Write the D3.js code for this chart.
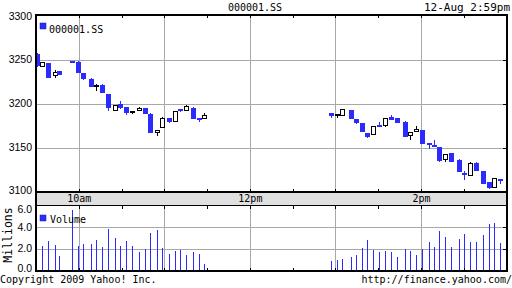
<!DOCTYPE html>
<html><head><meta charset="utf-8">
<script src="https://cdn.jsdelivr.net/npm/d3@7"></script>
<style>html,body{margin:0;padding:0;background:#fff;overflow:hidden}</style>
</head><body><svg id="c" width="512" height="288"></svg>
<script>
const symbol = "000001.SS";
const stamp = "12-Aug 2:59pm";
const copyright = "Copyright 2009 Yahoo! Inc.";
const url = "http://finance.yahoo.com/";
// minutes after 9:30
const minutes = [1.0,4.4,8.6,13.0,16.4,25.5,29.7,33.3,38.8,42.4,46.6,50.8,55.6,59.2,63.4,67.6,71.9,76.7,80.2,84.6,88.6,93.5,97.8,101.3,105.5,110.4,114.6,118.1,
  207.2,211.4,214.9,220.6,224.1,228.3,232.5,236.3,240.9,245.1,249.3,253.5,258.5,262.0,266.2,270.4,275.3,279.5,283.0,287.2,291.4,296.4,299.9,304.1,308.3,313.3,317.5,321.0,325.1];
const opens  = [3256,3242,3246,3231,3237,3247.5,3247,3235,3228,3219.5,3221,3211,3191,3200,3196,3190,3191,3195,3188,3166,3172,3184,3179,3193,3192,3195,3182.5,3182,
  3189,3186,3186,3193,3182,3178,3167,3164,3175,3174,3185,3183,3179,3163,3168,3170,3155,3153,3151,3136,3144,3136,3121,3118,3132.5,3123,3111,3104.5,3114];
const highs  = [3257,3247,3246,3238,3237,3248.5,3248,3235,3229,3222,3222,3211,3198,3203,3196,3192,3196,3195,3189,3170,3185,3184,3192,3194,3198,3196,3183.5,3189,
  3189,3188,3194,3193,3182,3178,3167,3174,3179,3183,3187,3183,3180,3168,3174,3170,3155,3159,3151,3143,3144,3137,3123,3133,3134,3123,3111,3115,3114];
const lows   = [3241,3242,3229,3229,3232,3246,3235,3227,3219,3214,3212,3191,3191,3194,3187,3188,3191,3188,3167,3163,3172,3178,3179,3190,3192,3182,3179,3182,
  3184,3183,3186,3182,3176.5,3168,3160.5,3164,3174,3173,3181,3178,3162,3159,3168,3154,3148,3151,3134,3134,3134,3122,3113,3118,3123,3109,3103,3104,3109];
const closes = [3243,3247,3229,3236,3232,3246.5,3235,3228,3219,3220.5,3212,3195,3198,3195,3189,3191,3195,3188,3167,3170,3183,3179,3192,3192,3197,3182,3181.5,3187,
  3186,3188,3193.5,3182,3178,3168,3162,3174,3174,3183,3181,3178,3162,3168,3171,3154,3153.5,3151,3135,3143,3134,3122,3119.5,3132.5,3123,3109,3104,3115,3112.5];
// millions
const volumes = [null,2.29,2.75,2.38,1.36,5.6,2.29,2.47,2.47,2.84,2.19,3.85,3.02,2.29,2.75,2.29,1.73,2.01,3.48,3.76,2.1,1.55,1.82,1.92,1.46,1.73,1.55,0.63,
  0.90,1.0,1.09,1.27,1.46,2.1,2.84,1.92,1.73,1.82,1.73,1.27,2.01,1.82,1.46,2.01,2.65,2.19,3.67,3.12,2.19,2.93,3.39,2.65,2.65,3.3,4.31,4.4,2.56];
const priceTicks = [3100,3150,3200,3250,3300];
const volTicks = [0,2,4,6];
const hourTicks = [30,90,150,210,270];
const timeLabelTicks = [30,150,270];
const timeLabels = ["10am","12pm","2pm"];

const svg = d3.select("#c");
const L = 36, R = 506.5, T = 15, MB = 192, VT = 205.5, VB = 271;
const blue = "#2b2bff", gridC = "#a8a8a8";
const mono = "'DejaVu Sans Mono', monospace", sans = "'Liberation Sans', Arial, sans-serif";

const x = d3.scaleLinear().domain([0, 330]).range([L, R]);
const y = d3.scaleLinear().domain([3100, 3300]).range([191.5, 15.5]);
const yv = d3.scaleLinear().domain([0, 6]).range([270.8, 205.7]);

const data = minutes.map((t, i) => ({t, o: opens[i], h: highs[i], l: lows[i], c: closes[i], v: volumes[i]}));

// grey time band
svg.append("rect").attr("x", L).attr("y", MB).attr("width", R - L).attr("height", VT - MB).attr("fill", "#e0e0e0");

// gridlines
const g = svg.append("g").attr("stroke", gridC).attr("stroke-width", 1).attr("shape-rendering", "crispEdges");
g.selectAll(".hv").data(hourTicks).join("line")
  .attr("x1", d => Math.round(x(d)) + 0.5).attr("x2", d => Math.round(x(d)) + 0.5).attr("y1", T).attr("y2", MB);
g.selectAll(".hv2").data(hourTicks).join("line").attr("class", "hv2")
  .attr("x1", d => Math.round(x(d)) + 0.5).attr("x2", d => Math.round(x(d)) + 0.5).attr("y1", VT).attr("y2", VB);
g.selectAll(".ph").data(priceTicks.slice(1, -1)).join("line").attr("class", "ph")
  .attr("x1", L).attr("x2", R).attr("y1", d => Math.round(y(d)) + 0.5).attr("y2", d => Math.round(y(d)) + 0.5);
g.selectAll(".vh").data(volTicks.slice(1, -1)).join("line").attr("class", "vh")
  .attr("x1", L).attr("x2", R).attr("y1", d => Math.round(yv(d)) + 0.5).attr("y2", d => Math.round(yv(d)) + 0.5);

// volume bars
svg.append("g").selectAll("line").data(data.filter(d => d.v != null)).join("line")
  .attr("x1", d => Math.round(x(d.t)) + 0.5).attr("x2", d => Math.round(x(d.t)) + 0.5)
  .attr("y1", yv(0)).attr("y2", d => yv(d.v))
  .attr("stroke", blue).attr("stroke-width", 1).attr("shape-rendering", "crispEdges");

// candles
const cg = svg.append("g").attr("shape-rendering", "crispEdges");
data.forEach(d => {
  const cx = Math.round(x(d.t));
  const up = d.c >= d.o;
  const col = up ? "#000" : blue;
  cg.append("line").attr("x1", cx + 0.5).attr("x2", cx + 0.5)
    .attr("y1", y(d.h)).attr("y2", y(d.l)).attr("stroke", col).attr("stroke-width", 1);
  const top = y(Math.max(d.o, d.c)), bot = y(Math.min(d.o, d.c));
  if (bot - top < 2.5) {
    cg.append("rect").attr("x", cx - 2).attr("y", Math.round((top + bot) / 2 - 1))
      .attr("width", 5).attr("height", 2).attr("fill", col);
  } else if (up) {
    cg.append("rect").attr("x", cx - 1.5).attr("y", Math.round(top) + 0.5)
      .attr("width", 4).attr("height", Math.round(bot) - Math.round(top) - 1)
      .attr("fill", "#fff").attr("stroke", "#000").attr("stroke-width", 1);
  } else {
    cg.append("rect").attr("x", cx - 2).attr("y", Math.round(top))
      .attr("width", 5).attr("height", Math.round(bot) - Math.round(top)).attr("fill", blue);
  }
});

// half-hour ticks
const tk = svg.append("g").attr("stroke", "#000").attr("stroke-width", 1).attr("shape-rendering", "crispEdges");
d3.range(0, 331, 30).forEach(t => {
  const xx = Math.round(x(t)) + 0.5;
  [[T, T + 3], [MB - 3, MB], [VT, VT + 3], [VB - 3, VB]].forEach(([a, b]) =>
    tk.append("line").attr("x1", xx).attr("x2", xx).attr("y1", a).attr("y2", b));
});
priceTicks.slice(1, -1).forEach(v => tk.append("line").attr("x1", R - 4).attr("x2", R)
  .attr("y1", Math.round(y(v)) + 0.5).attr("y2", Math.round(y(v)) + 0.5));
volTicks.slice(1, -1).forEach(v => tk.append("line").attr("x1", R - 4).attr("x2", R)
  .attr("y1", Math.round(yv(v)) + 0.5).attr("y2", Math.round(yv(v)) + 0.5));

// frame
const fr = svg.append("g").attr("stroke", "#000").attr("shape-rendering", "crispEdges");
fr.append("line").attr("x1", L - 1).attr("x2", R + 1).attr("y1", T).attr("y2", T).attr("stroke-width", 1.5);
fr.append("line").attr("x1", L).attr("x2", L).attr("y1", T).attr("y2", VB + 1).attr("stroke-width", 2);
fr.append("line").attr("x1", R).attr("x2", R).attr("y1", T).attr("y2", VB + 1).attr("stroke-width", 2);
fr.append("line").attr("x1", L).attr("x2", R).attr("y1", MB).attr("y2", MB).attr("stroke-width", 2);
fr.append("line").attr("x1", L).attr("x2", R).attr("y1", VT).attr("y2", VT).attr("stroke-width", 1);
fr.append("line").attr("x1", L).attr("x2", R + 1).attr("y1", VB).attr("y2", VB).attr("stroke-width", 2);

// y axes labels
const clamp = (v, a, b) => Math.max(a, Math.min(b, v));
const ay = svg.append("g").attr("transform", `translate(${L},0)`)
  .call(d3.axisLeft(y).tickValues(priceTicks).tickSize(0).tickPadding(4).tickFormat(d3.format("d")));
ay.select(".domain").remove();
ay.selectAll(".tick").attr("transform", d => `translate(0,${clamp(y(d), 17, 190.5)})`);
ay.selectAll("text").attr("font-family", sans).attr("font-size", 10.5).attr("fill", "#000");

const av = svg.append("g").attr("transform", `translate(${L},0)`)
  .call(d3.axisLeft(yv).tickValues(volTicks).tickSize(0).tickPadding(4).tickFormat(d3.format(".1f")));
av.select(".domain").remove();
av.selectAll(".tick").attr("transform", d => `translate(0,${clamp(yv(d), 209.5, 268.5)})`);
av.selectAll("text").attr("font-family", sans).attr("font-size", 10.5).attr("fill", "#000");

// x axis labels
const ax = svg.append("g").attr("transform", `translate(0,${MB})`)
  .call(d3.axisBottom(x).tickValues(timeLabelTicks).tickSize(0).tickPadding(3)
    .tickFormat((d, i) => timeLabels[i]));
ax.select(".domain").remove();
ax.selectAll("text").attr("font-family", mono).attr("font-size", 10).attr("fill", "#000");

// texts
const txt = (s, xx, yy, anchor, size) => svg.append("text").text(s).attr("x", xx).attr("y", yy)
  .attr("text-anchor", anchor).attr("font-family", mono).attr("font-size", size).attr("fill", "#000");
txt(symbol, 255, 11, "middle", 10);
txt(stamp, 510, 11, "end", 11);
txt(copyright, 0, 283, "start", 10);
txt(url, 512, 283, "end", 10);

// legends
svg.append("rect").attr("x", 40).attr("y", 23).attr("width", 6).attr("height", 6).attr("fill", blue).attr("stroke", "#1a1aa0").attr("stroke-width", 0.5);
txt(symbol, 49, 32.5, "start", 10);
svg.append("rect").attr("x", 40).attr("y", 215).attr("width", 6).attr("height", 6).attr("fill", blue).attr("stroke", "#1a1aa0").attr("stroke-width", 0.5);
txt("Volume", 50, 222.5, "start", 10);

svg.append("text").text("Millions").attr("transform", "translate(11.5,235) rotate(-90)")
  .attr("text-anchor", "middle").attr("font-family", mono).attr("font-size", 11.5).attr("fill", "#000");
</script>
</body></html>
